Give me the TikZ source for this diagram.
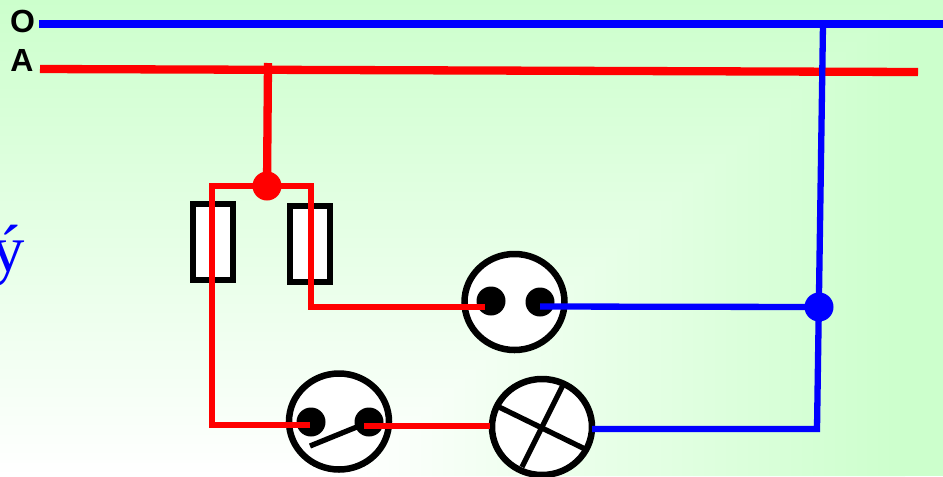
\documentclass[tikz,border=0pt]{standalone}
\usetikzlibrary{shapes.geometric}
\usepackage{fontspec}
\setmainfont{Liberation Sans}
\newfontfamily\serifface{Liberation Serif}
\definecolor{bgc}{HTML}{CCFFCC}
\definecolor{wblue}{HTML}{0000FF}
\definecolor{wred}{HTML}{FF0000}
\newdimen\px \px=0.75pt
\tikzset{
  x=0.75pt,y=-0.75pt,
  bluew/.style={draw=wblue,line width=6.3\px,line join=miter},
  bluebus/.style={draw=wblue,line width=8.3\px},
  redw/.style={draw=wred,line width=6\px,line join=miter},
  redbus/.style={draw=wred,line width=8.3\px},
  disc/.style={ellipse,draw=black,line width=6.5\px,fill=white,minimum width=100\px,minimum height=96\px,inner sep=0pt,outer sep=0pt},
  term/.style={circle,fill=black,minimum size=29\px,inner sep=0pt,outer sep=0pt},
  joint/.style={circle,minimum size=29\px,inner sep=0pt,outer sep=0pt},
  fuse/.style={rectangle,draw=black,line width=6.3\px,fill=white,minimum width=40\px,minimum height=76\px,inner sep=0pt,outer sep=0pt},
  busl/.style={font=\bfseries\fontsize{24pt}{26pt}\selectfont,anchor=base,inner sep=0pt,text=black},
  blk/.style={draw=black,line width=5.3\px},
}
\begin{document}
\begin{tikzpicture}
\useasboundingbox (0,0) rectangle (943,476);
\begin{scope}
\clip (0,0) rectangle (943,476);
\shade[top color=bgc,bottom color=white] (0,0) rectangle (943,476);
\begin{scope}
\clip (905,0) -- (905,476) -- (350,476) -- cycle;
\shade[left color=white,right color=bgc] (350,0) rectangle (905,476);
\end{scope}
\fill[bgc] (904.5,0) rectangle (943,476);
\node[anchor=base west,inner sep=0pt,text=wblue,font=\serifface\fontsize{50pt}{52pt}\selectfont] (yacute) at (-9,271) {ý};
\end{scope}

\node[busl] (lO) at (22.5,32.5) {O};
\node[busl] (lA) at (22,71) {A};

\coordinate (Ostart) at (39,24);
\coordinate (Oend) at (943,24);
\coordinate (Astart) at (40,69);
\coordinate (Aend) at (918,72);
\coordinate (Atap) at (268,63);
\coordinate (Otap) at (823,24);
\coordinate (lampcorner) at (817,429);

\node[fuse] (fuseL) at (213,242) {};
\node[fuse] (fuseR) at (310,244) {};

\node[disc] (socket) at (514.5,302) {};
\node[term] (s1) at (491,301) {};
\node[term] (s2) at (540,302) {};

\node[disc] (switch) at (339,421.5) {};
\node[term] (w1) at (311,422) {};
\node[term] (w2) at (369,422) {};
\coordinate (armend) at (310,446);
\draw[blk] (armend) -- (w2.center);

\node[disc] (lamp) at (542,427) {};
\coordinate (c1) at (498,406.5);
\coordinate (c2) at (585,449);
\coordinate (c3) at (563,385);
\coordinate (c4) at (522,467);
\draw[blk] (c1) -- (c2);
\draw[blk] (c3) -- (c4);

% phase
\draw[redbus] (Astart) -- (Aend);
\node[joint,fill=wred] (jR) at (267,186) {};
\draw[redbus] (Atap) -- (jR.center);
\coordinate (tl) at (212,186);
\coordinate (tr) at (311,186);
\coordinate (sockin) at (311,307);
\coordinate (sockend) at (485,307);
\coordinate (bl) at (212,425);
\coordinate (swin) at (310,425);
\coordinate (sw2out) at (364,426);
\coordinate (lampin) at (490,426);
\draw[redw] (jR.center) -- (tr) -- (sockin) -- (sockend);
\draw[redw] (jR.center) -- (tl) -- (bl) -- (swin);
\draw[redw] (sw2out) -- (lampin);

% neutral
\node[joint,fill=wblue] (jB) at (819,307) {};
\coordinate (sockblue) at (540,306.5);
\coordinate (lampout) at (592,429);
\draw[bluew] (Otap) -- (lampcorner) -- (lampout);
\draw[bluew] (sockblue) -- (jB.center);
\draw[bluebus] (Ostart) -- (Oend);
\end{tikzpicture}
\end{document}
